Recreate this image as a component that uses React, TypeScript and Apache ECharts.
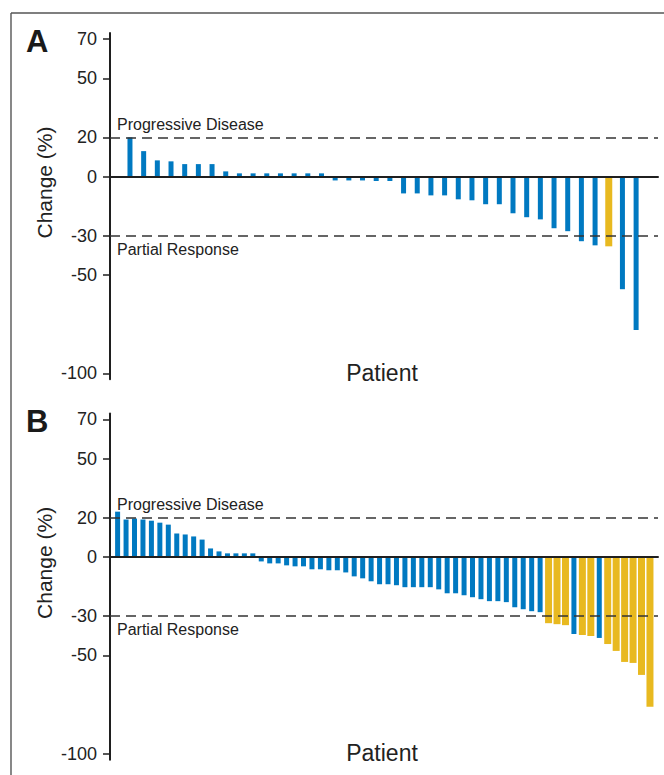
import React, { useEffect, useRef } from "react";
import * as echarts from "echarts";

// Panel A: per-patient best change (%), ordered as in the waterfall
const valuesA = [
  20, 13, 8.3, 7.8, 6.4, 6.4, 6.4, 2.7, 1.7, 1.7, 1.7, 1.7, 1.7, 1.7, 1.7,
  -1.9, -1.9, -1.9, -2.2, -2.2, -8.5, -8.5, -9.5, -9.5, -11.5, -12, -14, -14,
  -18.6, -20.6, -21.7, -26.2, -27.7, -32.8, -34.9, -35.4, -57.2, -78,
];
// patients (1-based) drawn in yellow
const highlightA = [36];

// Panel B
const valuesB = [
  23.1, 19.1, 19.6, 19.1, 18.5, 17.5, 16.5, 12, 11.5, 10.5, 8.9, 4.4, 2.9, 1.9,
  1.9, 1.9, 1.9, -2.2, -3.2, -3.2, -4.2, -4.7, -4.7, -6.2, -6.2, -6.7, -6.7,
  -7.8, -9.8, -10.8, -12.3, -13.8, -13.8, -14.3, -15.3, -15.3, -15.3, -15.3,
  -16.4, -18.4, -18.4, -19.4, -20.4, -21.4, -22.4, -22.4, -22.9, -25.5, -26.5,
  -27.5, -28, -33.6, -34.1, -34.6, -39.1, -39.6, -40.1, -41.1, -44.2, -47.7,
  -53.3, -53.8, -59.9, -76.1,
];
const highlightB = [52, 53, 54, 56, 57, 59, 60, 61, 62, 63, 64];

const yTicks = [70, 50, 20, 0, -30, -50, -100];
const thresholds = [20, -30];
const panelLabels = ["A", "B"];
const progressiveLabel = "Progressive Disease";
const partialLabel = "Partial Response";
const xName = "Patient";
const yName = "Change (%)";

const BLUE = "#0079C1";
const YELLOW = "#E8B920";
const INK = "#1f1f1f";
const FONT = '"Liberation Sans", Arial, Helvetica, sans-serif';

function split(values: number[], hi: number[]) {
  const blue: [number, number][] = [];
  const yellow: [number, number][] = [];
  values.forEach((v, i) => {
    const p = i + 1;
    if (hi.includes(p)) yellow.push([p, v]);
    else blue.push([p, v]);
  });
  return { blue, yellow };
}

export default function App() {
  const ref = useRef<HTMLDivElement>(null);
  useEffect(() => {
    if (!ref.current) return;
    const chart = echarts.init(ref.current, undefined, { renderer: "svg" });
    const A = split(valuesA, highlightA);
    const B = split(valuesB, highlightB);

    const gridTop = [33.1, 413.5];
    const gridH = 346.2;
    const xRange = [
      { min: -0.46, max: 39.6 },
      { min: 0.1, max: 64.95 },
    ];

    const yAxis = [0, 1].map((g) => ({
      type: "value",
      gridIndex: g,
      min: -103,
      max: 73,
      axisLine: { show: true, onZero: false, lineStyle: { color: INK, width: 2 } },
      axisTick: {
        show: true,
        customValues: yTicks,
        length: 7,
        lineStyle: { color: INK, width: 1.5 },
      },
      axisLabel: {
        customValues: yTicks,
        margin: 13,
        fontSize: 18,
        color: "#222",
        fontFamily: FONT,
      },
      splitLine: { show: false },
    }));

    const xAxis: any[] = [];
    [0, 1].forEach((g) => {
      xAxis.push({
        type: "value",
        gridIndex: g,
        min: xRange[g].min,
        max: xRange[g].max,
        z: 5,
        axisLine: { show: true, onZero: true, lineStyle: { color: INK, width: 2 } },
        axisTick: { show: false },
        axisLabel: { show: false },
        splitLine: { show: false },
      });
      xAxis.push({
        type: "value",
        gridIndex: g,
        min: xRange[g].min,
        max: xRange[g].max,
        show: false,
        splitLine: { show: false },
      });
    });

    const markLine = {
      silent: true,
      symbol: ["none", "none"],
      label: { show: false },
      lineStyle: { color: "#333", width: 1.5, type: [10, 6] },
      data: thresholds.map((t) => ({ yAxis: t })),
    };

    const series: any[] = [];
    [A, B].forEach((d, g) => {
      series.push({
        type: "bar",
        xAxisIndex: g * 2,
        yAxisIndex: g,
        data: d.blue,
        barWidth: 5,
        itemStyle: { color: BLUE },
        markLine,
      });
      series.push({
        type: "bar",
        xAxisIndex: g * 2 + 1,
        yAxisIndex: g,
        data: d.yellow,
        barWidth: 7,
        itemStyle: { color: YELLOW },
      });
    });

    const txt = (
      text: string,
      x: number,
      y: number,
      size: number,
      align: string,
      extra: any = {}
    ) => ({
      type: "text",
      x,
      y,
      ...extra,
      style: {
        text,
        fill: "#222",
        font: `${size}px ${FONT}`,
        align,
        textAlign: align,
        verticalAlign: "middle",
        textVerticalAlign: "middle",
      },
    });

    const graphic: any[] = [
      {
        type: "line",
        shape: { x1: 11, y1: 13, x2: 700, y2: 13 },
        style: { stroke: "#555", lineWidth: 1.4 },
      },
      {
        type: "line",
        shape: { x1: 11, y1: 13, x2: 11, y2: 800 },
        style: { stroke: "#555", lineWidth: 1.4 },
      },
    ];
    const off = [0, 380.4];
    [0, 1].forEach((g) => {
      const o = off[g];
      graphic.push({
        type: "text",
        x: 26,
        y: 41 + o,
        style: {
          text: panelLabels[g],
          fill: "#1a1a1a",
          font: `bold 31px ${FONT}`,
          align: "left",
          textAlign: "left",
          verticalAlign: "middle",
          textVerticalAlign: "middle",
        },
      });
      graphic.push(txt(progressiveLabel, 117, 124 + o, 16, "left"));
      graphic.push(txt(partialLabel, 117, 249.5 + o, 16, "left"));
      graphic.push(txt(xName, 382, 372.5 + o, 23, "center"));
      graphic.push(
        txt(yName, 44, 182.5 + o, 21, "center", { rotation: Math.PI / 2 })
      );
    });

    chart.setOption({
      animation: false,
      grid: gridTop.map((t) => ({ left: 110, top: t, width: 548, height: gridH })),
      xAxis,
      yAxis,
      series,
      graphic,
    });
    return () => chart.dispose();
  }, []);

  return (
    <div
      ref={ref}
      style={{ position: "fixed", left: 0, top: 0, width: 664, height: 775, background: "#fff" }}
    />
  );
}
